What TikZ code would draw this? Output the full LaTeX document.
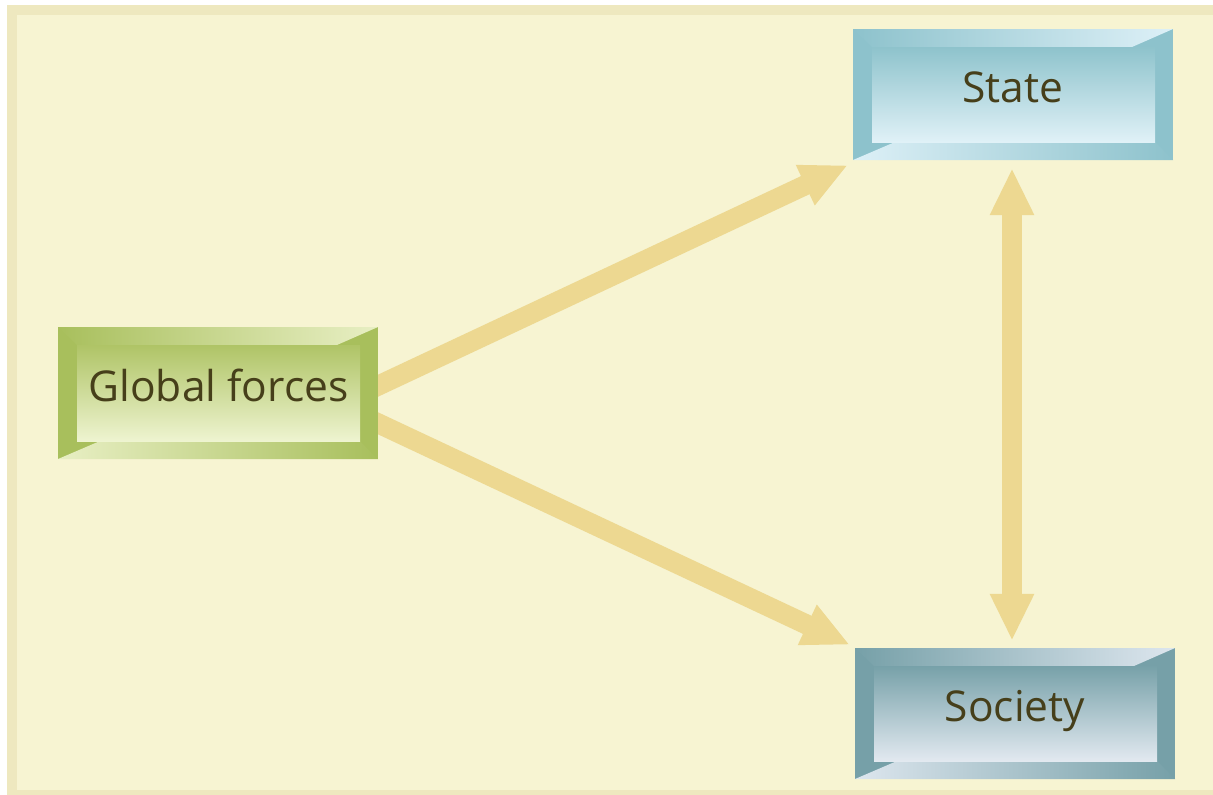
\documentclass[tikz,border=0pt]{standalone}
\usepackage{fontspec}
\setmainfont{Open Sans}
\usetikzlibrary{arrows.meta,calc,fit}
\definecolor{panelc}{HTML}{F7F4D2}
\definecolor{bandc}{HTML}{EEE8BF}
\definecolor{arrowc}{HTML}{EDD891}
\definecolor{txtc}{HTML}{463F1A}
\definecolor{gD}{HTML}{A8BF5C}
\definecolor{gL}{HTML}{E8EFC4}
\definecolor{gT}{HTML}{AFC466}
\definecolor{gB}{HTML}{EEF4D0}
\definecolor{sD}{HTML}{8DC2CC}
\definecolor{sL}{HTML}{DDF0F7}
\definecolor{sT}{HTML}{8EC3CC}
\definecolor{sB}{HTML}{E0F1F7}
\definecolor{cD}{HTML}{76A0A8}
\definecolor{cL}{HTML}{DDE6EE}
\definecolor{cT}{HTML}{77A1A9}
\definecolor{cB}{HTML}{E2E9F0}
\tikzset{
  flow/.style={draw=arrowc, line width=20pt,
    -{Triangle[length=47pt,width=41pt]}},
  flowboth/.style={draw=arrowc, line width=20pt,
    {Triangle[length=47pt,width=41pt]}-{Triangle[length=47pt,width=41pt]}},
  label/.style={text=txtc, font=\fontsize{42.5}{50}\selectfont, inner sep=0pt, anchor=base},
  boxnode/.style={inner sep=0pt, draw=none}
}
% #1 name, #2 x1, #3 y1, #4 x2, #5 y2, #6 colour prefix
\newcommand\bevelbox[6]{%
  \coordinate (#1-nw) at (#2,#3);
  \coordinate (#1-se) at (#4,#5);
  \node[boxnode, fit=(#1-nw)(#1-se)] (#1) {};
  \fill[#6D] (#2,#3) rectangle (#4,#5);
  \shade[left color=#6D, right color=#6L]
    (#2,#3) -- (#4,#3) -- (#4-41,#3+18) -- (#2+19,#3+18) -- cycle;
  \shade[left color=#6L, right color=#6D]
    (#2,#5) -- (#2+42,#5-18) -- (#4-18,#5-18) -- (#4,#5) -- cycle;
  \shade[top color=#6T, bottom color=#6B]
    (#2+19,#3+18) rectangle (#4-18,#5-18);
}
\begin{document}
\begin{tikzpicture}[x=1pt,y=-1pt]
\useasboundingbox (0,0) rectangle (1213,795);
\fill[white] (0,0) rectangle (1213,795);
\fill[bandc] (7,5) rectangle (1213,795);
\fill[panelc] (17,15) rectangle (1213,790);

% invisible box nodes for connectors
\coordinate (gf-nw0) at (58,327);
\coordinate (gf-se0) at (378,459);
\node[boxnode, fit=(gf-nw0)(gf-se0)] (gf0) {};
\coordinate (st-nw0) at (853,29);
\coordinate (st-se0) at (1173,160);
\node[boxnode, fit=(st-nw0)(st-se0)] (st0) {};
\coordinate (so-nw0) at (855,648);
\coordinate (so-se0) at (1175,779);
\node[boxnode, fit=(so-nw0)(so-se0)] (so0) {};

% connectors (drawn first, boxes on top)
\draw[flow] ([shift={(-20,2)}]gf0.east) -- ([shift={(-5,5)}]st0.south west);
\draw[flow] ([shift={(-20,21)}]gf0.east) -- ([shift={(-5,-3)}]so0.north west);
\draw[flowboth] ([shift={(-1,8)}]st0.south) -- ([shift={(-3,-7)}]so0.north);

% boxes
\bevelbox{gf}{58}{327}{378}{459}{g}
\bevelbox{st}{853}{29}{1173}{160}{s}
\bevelbox{so}{855}{648}{1175}{779}{c}

% labels
\node[label] (gft) at (218.5,401) {Global forces};
\node[label] (stt) at (1012.5,102) {State};
\node[label] (sot) at (1015,721) {Society};
\end{tikzpicture}
\end{document}
